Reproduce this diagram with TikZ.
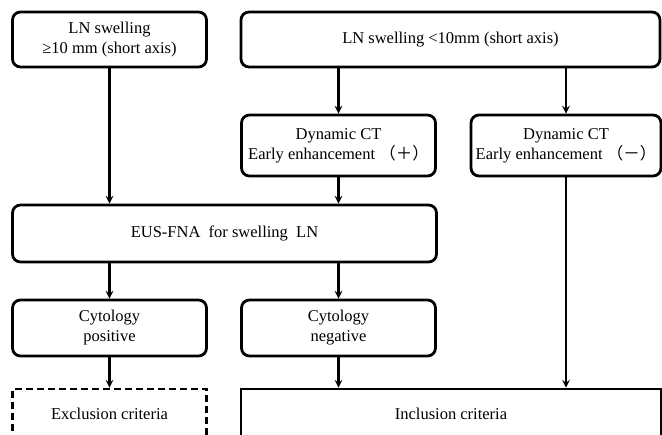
\documentclass[tikz,border=0pt]{standalone}
\usepackage{fontspec}
\setmainfont{Liberation Serif}
\newfontfamily\cjk{Noto Sans CJK SC}
\usepackage{tikz}
\usetikzlibrary{calc}
\usetikzlibrary{shapes,arrows}
\tikzstyle{stage} = [draw,line width=2.8pt,rounded corners=8pt,align=center,
	inner sep=0pt,font=\rmfamily\fontsize{16.5}{20}\selectfont]
\tikzstyle{criteria} = [draw,line width=2.6pt,align=center,inner sep=0pt,
	minimum height=50pt,font=\rmfamily\fontsize{16.5}{20}\selectfont]
\tikzstyle{flow} = [->,line width=2.4pt]

\begin{document}
\begin{tikzpicture}[>=stealth,x=1pt,y=-1pt]
   \useasboundingbox (0,0) rectangle (662,435);
   \clip (0,0) rectangle (662,435);
   % top row
   \node[stage,minimum width=194pt,minimum height=55pt] (lnbig) at (109.5,39.5) {LN swelling\\≥10 mm (short axis)};
   \node[stage,minimum width=419pt,minimum height=55pt] (lnsmall) at (450.5,39.5) {LN swelling <10mm (short axis)};
   % dynamic CT
   \node[stage,minimum width=194pt,minimum height=61pt] (ctpos) at (338.5,145.5) {Dynamic CT\\Early enhancement {\cjk （＋）}};
   \node[stage,minimum width=190pt,minimum height=61pt] (ctneg) at (566,145.5) {Dynamic CT\\Early enhancement {\cjk （－）}};
   % EUS-FNA
   \node[stage,minimum width=424pt,minimum height=57pt] (eus) at (224.5,233.5) {EUS-FNA\ \ for swelling\ \ LN};
   % cytology
   \node[stage,minimum width=194pt,minimum height=56pt] (cytpos) at (109.5,328) {Cytology\\positive};
   \node[stage,minimum width=194pt,minimum height=56pt] (cytneg) at (338.5,328) {Cytology\\negative};
   % criteria
   \node[criteria,dash pattern=on 7pt off 4pt,minimum width=194pt] (excl) at (109.5,414) {Exclusion criteria};
   \node[criteria,minimum width=420pt] (incl) at (451,414) {Inclusion criteria};

   \draw[flow] (lnbig) -- (lnbig |- eus.north);
   \draw[flow] (lnsmall.south -| ctpos) -- (ctpos);
   \draw[flow] (lnsmall.south -| ctneg) -- (ctneg);
   \draw[flow] (ctpos) -- (ctpos |- eus.north);
   \draw[flow] (eus.south -| cytpos) -- (cytpos);
   \draw[flow] (eus.south -| cytneg) -- (cytneg);
   \draw[flow] (cytpos) -- (excl);
   \draw[flow] (cytneg) -- (cytneg |- incl.north);
   \draw[flow] (ctneg) -- (ctneg |- incl.north);
\end{tikzpicture}
\end{document}
